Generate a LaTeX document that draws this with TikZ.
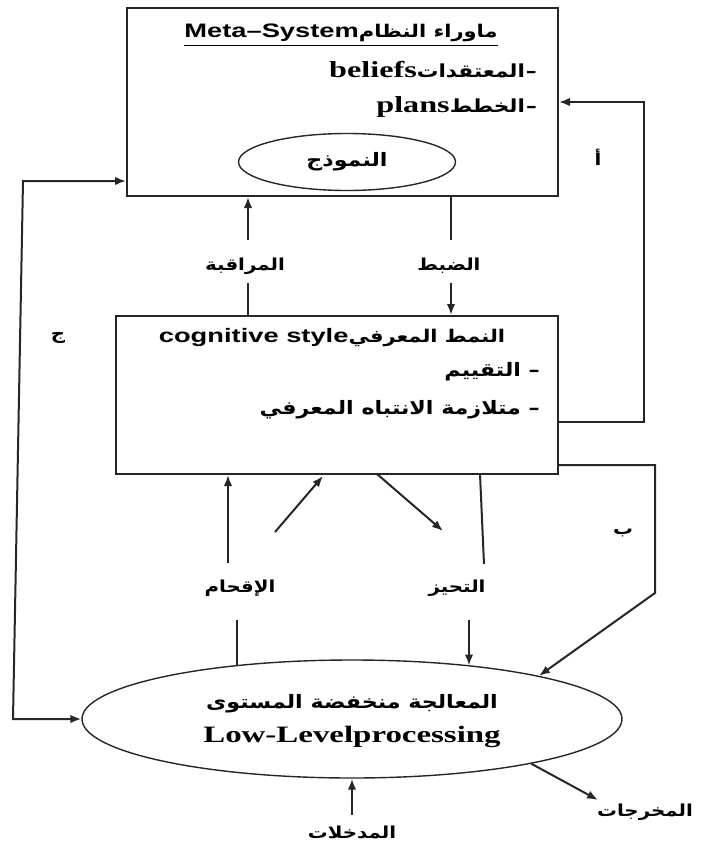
\documentclass[tikz,border=0pt]{standalone}
\usepackage{fontspec}
\usetikzlibrary{arrows.meta,shapes.geometric}
\TeXXeTstate=1
\newfontfamily\arabicfont[Script=Arabic,FakeStretch=1.2]{DejaVu Sans}
\newfontfamily\latsans[FakeStretch=1.4]{Liberation Sans}
\newfontfamily\latserif[FakeStretch=1.4]{Liberation Serif}
\tikzset{
  conn/.style={draw=black!85, line width=2pt},
  arr/.style={conn, -{Latex[length=11pt,width=8.5pt]}},
  arrboth/.style={conn, {Latex[length=11pt,width=8.5pt]}-{Latex[length=11pt,width=8.5pt]}},
  boxed/.style={draw=black!85, line width=2pt, inner sep=0pt},
  oval/.style={draw=black!85, line width=1.4pt, inner sep=0pt, ellipse},
  ar/.style={inner sep=0pt, font=\arabicfont\bfseries\fontsize{16.5}{18}\selectfont},
  arbig/.style={inner sep=0pt, font=\arabicfont\bfseries\fontsize{18.5}{20}\selectfont},
}
\begin{document}
\begin{tikzpicture}[x=1pt,y=-1pt]
\useasboundingbox (0,0) rectangle (702,848);
% boxes
\node[boxed, minimum width=431pt, minimum height=188pt] (meta) at (342.5,102) {};
\node[boxed, minimum width=442pt, minimum height=158pt] (cog) at (337,395) {};
\node[oval, minimum width=217pt, minimum height=57pt] (model) at (347,162) {};
\node[oval, minimum width=540pt, minimum height=118pt] (low) at (352,719) {};
% texts in meta
\node[inner sep=0pt] (title) at (341,33) {\beginR{\arabicfont\bfseries\fontsize{17.5}{19}\selectfont ماوراء النظام}\beginL{\latsans\bfseries\fontsize{19.5}{22}\selectfont Meta–System}\endL\endR};
\draw[black, line width=1.2pt] ([yshift=-3pt]title.south west) -- ([yshift=-3pt]title.south east);
\node[inner sep=0pt, anchor=east] (beliefs) at (537,70) {\beginR{\arabicfont\bfseries\fontsize{18}{19}\selectfont –\kern1pt المعتقدات}\beginL{\latserif\bfseries\fontsize{23}{25}\selectfont beliefs}\endL\endR};
\node[inner sep=0pt, anchor=east] (plans) at (537,107) {\beginR{\arabicfont\bfseries\fontsize{18}{19}\selectfont –\kern1pt الخطط}\beginL{\latserif\bfseries\fontsize{23}{25}\selectfont plans}\endL\endR};
\node[arbig] (modeltext) at (model.center) {\beginR النموذج\endR};
% texts in cog
\node[inner sep=0pt] (cogtitle) at (332,338) {\beginR{\arabicfont\bfseries\fontsize{17.5}{19}\selectfont النمط المعرفي}\beginL{\latsans\bfseries\fontsize{19.5}{22}\selectfont cognitive style}\endL\endR};
\node[arbig, anchor=east] (evaltext) at (540,372) {\beginR – التقييم\endR};
\node[arbig, anchor=east] (syntext) at (540,410) {\beginR – متلازمة الانتباه المعرفي\endR};
% texts in low
\node[arbig] (lowar) at (352,704) {\beginR المعالجة منخفضة المستوى\endR};
\node[inner sep=0pt] (lowen) at (352,737) {\latserif\bfseries\fontsize{23.5}{25}\selectfont Low-Levelprocessing};
% labels
\node[ar] (monitor) at (245,266) {\beginR المراقبة\endR};
\node[ar] (control) at (449,266) {\beginR الضبط\endR};
\node[ar] (intrusion) at (240,588) {\beginR الإقحام\endR};
\node[ar] (bias) at (457,588) {\beginR التحيز\endR};
\node[ar] (inputs) at (352,832) {\beginR المدخلات\endR};
\node[ar] (outputs) at (645,812) {\beginR المخرجات\endR};
\node[ar] (la) at (598,157) {\beginR أ\endR};
\node[ar] (lb) at (623,533) {\beginR ب\endR};
\node[ar] (lj) at (58,338) {\beginR ج\endR};
% coordinates
\coordinate (monA) at (248,240); \coordinate (monB) at (248,283);
\coordinate (conA) at (451,240); \coordinate (conB) at (451,283);
\coordinate (intA) at (228,563);
\coordinate (intD) at (275,532); \coordinate (intE) at (323,476);
\coordinate (bsS) at (377,474); \coordinate (bsE) at (443,531);
\coordinate (blS) at (480,474); \coordinate (blE) at (484,564);
\coordinate (intL) at (237,620); \coordinate (bsL) at (469,620);
\coordinate (inA) at (352,815); \coordinate (outE) at (598,800);
\coordinate (jA) at (23,181); \coordinate (jB) at (13,719);
\coordinate (aT) at (644,102); \coordinate (aB) at (644,422);
\coordinate (bT) at (655,465); \coordinate (bB) at (655,593);
% connectors
\draw[arr] (monA) -- (monA |- meta.south);
\draw[conn] (monB) -- (monB |- cog.north);
\draw[conn] (conA |- meta.south) -- (conA);
\draw[arr] (conB) -- (conB |- cog.north);
\draw[arr] (intA) -- (intA |- cog.south);
\draw[arr] (intD) -- (intE);
\draw[arr] (bsS) -- (bsE);
\draw[conn] (blS) -- (blE);
\draw[conn] (intL) -- (intL |- low.155.1);
\draw[arr] (bsL) -- (bsL |- low.24.45);
\draw[arr] (inA) -- (low.south);
\draw[arr] (low.-14) -- (outE);
\draw[arrboth] (jA -| meta.west) -- (jA) -- (jB) -- (low.west);
\draw[arr] (aB -| cog.east) -- (aB) -- (aT) -- (aT -| meta.east);
\draw[arr] (bT -| cog.east) -- (bT) -- (bB) -- (low.13.7);
\end{tikzpicture}
\end{document}
